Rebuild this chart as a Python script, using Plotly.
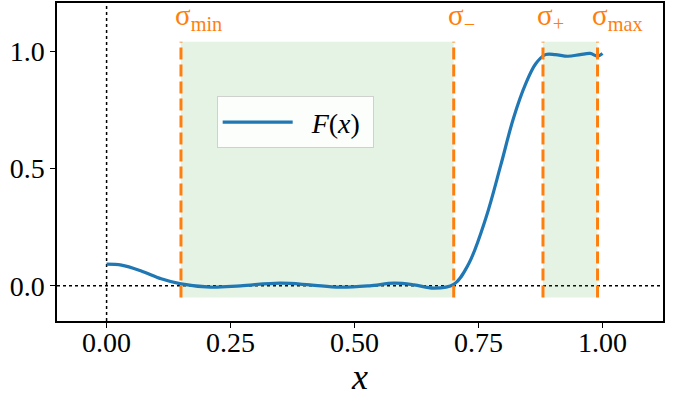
import plotly.graph_objects as go

# Sampled values of F(x)
x_vals = [0.0, 0.03, 0.07, 0.11, 0.15, 0.21, 0.27, 0.35, 0.41, 0.47, 0.53,
          0.58, 0.62, 0.66, 0.70, 0.73, 0.765, 0.795, 0.82, 0.845, 0.865,
          0.885, 0.905, 0.93, 0.955, 0.975, 0.99, 1.0]
f_vals = [0.092, 0.088, 0.063, 0.030, 0.008, -0.006, 0.0, 0.011, 0.004,
          -0.006, 0.0, 0.011, 0.004, -0.010, 0.006, 0.093, 0.29, 0.515,
          0.711, 0.86, 0.945, 0.985, 0.985, 0.978, 0.985, 0.99, 0.979, 0.99]

# Threshold positions and their labels
sigma_pos = [0.15, 0.70, 0.88, 0.99]
sigma_labels = ["σ<sub>min</sub>", "σ<sub>−</sub>", "σ<sub>+</sub>", "σ<sub>max</sub>"]

# Shaded intervals [start, end]
band_start = [0.15, 0.88]
band_end = [0.70, 0.99]
band_low, band_high = -0.05, 1.04

x_ticks = [0.0, 0.25, 0.5, 0.75, 1.0]
x_ticklabels = ["0.00", "0.25", "0.50", "0.75", "1.00"]
y_ticks = [0.0, 0.5, 1.0]
y_ticklabels = ["0.0", "0.5", "1.0"]

FONT = "Liberation Serif"
ORANGE = "#ff7f0e"
BLUE = "#1f77b4"

fig = go.Figure()

fig.add_trace(go.Scatter(
    x=x_vals, y=f_vals, mode="lines",
    line=dict(color=BLUE, width=3.2, shape="spline", smoothing=1.0),
    name="\u00a0\u00a0<i>F</i>(<i>x</i>)\u00a0",
))

shapes = []
for a, b in zip(band_start, band_end):
    shapes.append(dict(type="rect", xref="x", yref="y", x0=a, x1=b,
                       y0=band_low, y1=band_high, layer="below",
                       fillcolor="rgba(44,160,44,0.13)", line=dict(width=0)))

# reference lines at zero
shapes.append(dict(type="line", xref="paper", yref="y", x0=0, x1=1, y0=0, y1=0,
                   line=dict(color="black", width=1.5, dash="dot"), layer="below"))
shapes.append(dict(type="line", xref="x", yref="paper", x0=0, x1=0, y0=0, y1=1,
                   line=dict(color="black", width=1.5, dash="dot"), layer="below"))

for s in sigma_pos:
    shapes.append(dict(type="line", xref="x", yref="y", x0=s, x1=s,
                       y0=band_low, y1=band_high,
                       line=dict(color=ORANGE, width=3, dash="12px,5px")))

annotations = []
for s, lab in zip(sigma_pos, sigma_labels):
    annotations.append(dict(x=s, y=1.06, xref="x", yref="y", text=lab,
                            showarrow=False, xanchor="left", yanchor="bottom",
                            xshift=-8, font=dict(family=FONT, size=29, color=ORANGE)))

fig.update_layout(
    width=685, height=397,
    margin=dict(l=57, r=22, t=1, b=76),
    paper_bgcolor="white", plot_bgcolor="white",
    shapes=shapes, annotations=annotations,
    font=dict(family=FONT, size=28, color="black"),
    showlegend=True,
    legend=dict(x=0.2635, y=0.706, xanchor="left", yanchor="top",
                bgcolor="rgba(255,255,255,0.85)", bordercolor="#d0d0d0",
                borderwidth=1, font=dict(family=FONT, size=28),
                itemwidth=70),
    xaxis=dict(range=[-0.1, 1.122], tickvals=x_ticks, ticktext=x_ticklabels,
               showgrid=False, zeroline=False, showline=True, mirror=True,
               linecolor="black", linewidth=1.5, ticks="outside", ticklen=5,
               tickwidth=1.2, tickcolor="black", ticklabelstandoff=-9,
               title=dict(text="<i>x</i>", font=dict(family=FONT, size=36), standoff=4)),
    yaxis=dict(range=[-0.15, 1.205], tickvals=y_ticks, ticktext=y_ticklabels,
               showgrid=False, zeroline=False, showline=True, mirror=True,
               linecolor="black", linewidth=1.5, ticks="outside", ticklen=5,
               tickwidth=1.2, tickcolor="black"),
)

fig.write_html("out.html")
